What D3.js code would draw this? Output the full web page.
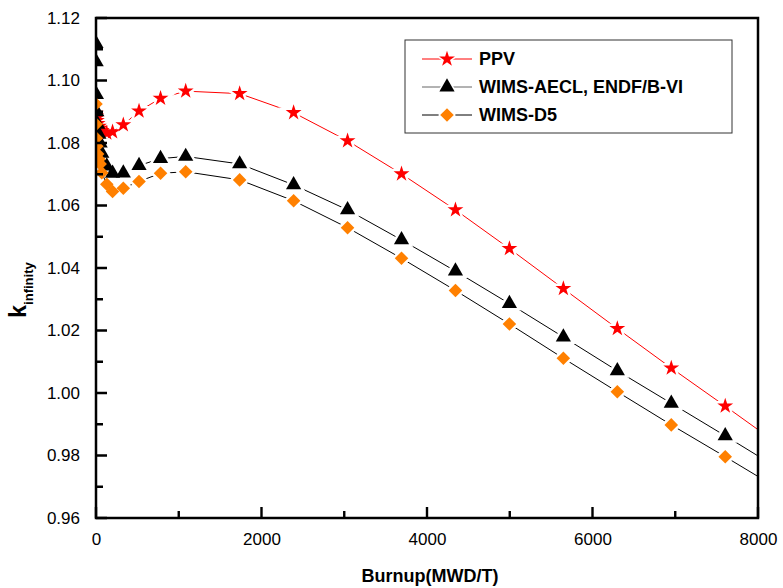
<!DOCTYPE html>
<html>
<head>
<meta charset="utf-8">
<script src="https://cdn.jsdelivr.net/npm/d3@7"></script>
<style>
  body { margin: 0; background: #fff; }
  text { font-family: "Liberation Sans", Arial, sans-serif; }
</style>
</head>
<body>
<div id="chart"></div>
<script>
// burnup steps (MWD/T), shared by all three series
const burnup = [0, 2, 5, 10, 20, 35, 50, 70, 130, 200, 330, 520, 780, 1084,
  1736, 2388, 3040, 3692, 4344, 4996, 5648, 6300, 6952, 7604, 8256];

const ppv = [1.0895, 1.0888, 1.0880, 1.0872, 1.0862, 1.0853, 1.0847, 1.0840, 1.0832, 1.0836,
  1.0858, 1.0902, 1.0943, 1.0966, 1.0958, 1.0897, 1.0807, 1.0701, 1.0586, 1.0462,
  1.0334, 1.0206, 1.0080, 0.9958, 0.9834];
const wimsAecl = [1.1118, 1.1060, 1.0955, 1.0900, 1.0860, 1.0828, 1.0800, 1.0767, 1.0726, 1.0703,
  1.0704, 1.0728, 1.0750, 1.0757, 1.0733, 1.0666, 1.0586, 1.0490, 1.0390, 1.0286,
  1.0179, 1.0071, 0.9967, 0.9863, 0.9757];
const wimsD5 = [1.0925, 1.0860, 1.0815, 1.0790, 1.0765, 1.0748, 1.0733, 1.0705, 1.0668, 1.0645,
  1.0655, 1.0677, 1.0703, 1.0708, 1.0682, 1.0615, 1.0529, 1.0431, 1.0328, 1.0221,
  1.0111, 1.0004, 0.9898, 0.9796, 0.9692];

const seriesNames = ["PPV", "WIMS-AECL, ENDF/B-VI", "WIMS-D5"];
const xTicks = [0, 2000, 4000, 6000, 8000];
const xMinorTicks = [1000, 3000, 5000, 7000];
const yTicks = [0.96, 0.98, 1.00, 1.02, 1.04, 1.06, 1.08, 1.10, 1.12];
const yMinorTicks = [0.97, 0.99, 1.01, 1.03, 1.05, 1.07, 1.09, 1.11];

const W = 783, H = 588;
const margin = { top: 18, right: 25, bottom: 70, left: 96 },
      width = W - margin.left - margin.right,
      height = H - margin.top - margin.bottom;

const svg = d3.select("#chart").append("svg")
    .attr("width", W)
    .attr("height", H);

const g = svg.append("g")
    .attr("transform", "translate(" + margin.left + "," + margin.top + ")");

const x = d3.scaleLinear().domain([0, 8000]).range([0, width]);
const y = d3.scaleLinear().domain([0.96, 1.12]).range([height, 0]);

const series = [
  { name: seriesNames[0], values: ppv, line: "#ff0000", fill: "#ff0000",
    symbol: d3.symbolStar, size: 78, rot: 0 },
  { name: seriesNames[1], values: wimsAecl, line: "#000000", fill: "#000000",
    symbol: d3.symbolTriangle, size: 100, rot: 0 },
  { name: seriesNames[2], values: wimsD5, line: "#000000", fill: "#ff8000",
    symbol: d3.symbolSquare, size: 92, rot: 45 }
];

svg.append("defs").append("clipPath")
    .attr("id", "plot-clip")
  .append("rect")
    .attr("width", width)
    .attr("height", height);

const plot = g.append("g").attr("clip-path", "url(#plot-clip)");

const line = d3.line()
    .x(d => x(d[0]))
    .y(d => y(d[1]));

series.forEach(s => {
  const pts = burnup.map((b, i) => [b, s.values[i]]);
  plot.append("path")
    .datum(pts)
    .attr("fill", "none")
    .attr("stroke", s.line)
    .attr("stroke-width", 1)
    .attr("d", line);
});

// white halo under the markers leaves the small gap in the line
series.forEach(s => {
  const pts = burnup.map((b, i) => [b, s.values[i]]);
  plot.selectAll(null)
    .data(pts.filter(d => d[0] > 300))
    .enter().append("path")
      .attr("d", d3.symbol().type(s.symbol).size(s.size))
      .attr("transform", d => "translate(" + x(d[0]) + "," + y(d[1]) + ") rotate(" + s.rot + ")")
      .attr("fill", "#fff")
      .attr("stroke", "#fff")
      .attr("stroke-width", 5);
});

series.forEach(s => {
  const pts = burnup.map((b, i) => [b, s.values[i]]);
  plot.selectAll(null)
    .data(pts)
    .enter().append("path")
      .attr("d", d3.symbol().type(s.symbol).size(s.size))
      .attr("transform", d => "translate(" + x(d[0]) + "," + y(d[1]) + ") rotate(" + s.rot + ")")
      .attr("fill", s.fill);
});

// axes: labels from d3 axes, ticks drawn inward below
const xAxis = g.append("g")
    .attr("transform", "translate(0," + height + ")")
    .call(d3.axisBottom(x).tickValues(xTicks).tickSize(0).tickPadding(15)
      .tickFormat(d3.format("d")));

const yAxis = g.append("g")
    .call(d3.axisLeft(y).tickValues(yTicks).tickSize(0).tickPadding(16)
      .tickFormat(d3.format(".2f")));

[xAxis, yAxis].forEach(a => {
  a.select(".domain").remove();
  a.selectAll(".tick line").remove();
  a.selectAll(".tick text")
    .style("font-size", "17px")
    .attr("fill", "#000");
});

// inward tick marks, drawn as one path
const tickPath = d3.path();
xTicks.forEach(v => { tickPath.moveTo(x(v), height); tickPath.lineTo(x(v), height - 11); });
xMinorTicks.forEach(v => { tickPath.moveTo(x(v), height); tickPath.lineTo(x(v), height - 7); });
yTicks.forEach(v => { tickPath.moveTo(0, y(v)); tickPath.lineTo(11, y(v)); });
yMinorTicks.forEach(v => { tickPath.moveTo(0, y(v)); tickPath.lineTo(7, y(v)); });

svg.append("path")
    .attr("transform", "translate(" + margin.left + "," + margin.top + ")")
    .attr("d", tickPath.toString())
    .attr("fill", "none")
    .attr("stroke", "#000")
    .attr("stroke-width", 2.4);

// frame
g.append("rect")
    .attr("width", width)
    .attr("height", height)
    .attr("fill", "none")
    .attr("stroke", "#000")
    .attr("stroke-width", 2.5);

// axis titles
g.append("text")
    .attr("x", width / 2 + 3)
    .attr("y", height + 64)
    .attr("text-anchor", "middle")
    .style("font-size", "18px")
    .style("font-weight", "bold")
    .text("Burnup(MWD/T)");

const yt = svg.append("text")
    .attr("transform", "translate(26,290) rotate(-90)")
    .attr("text-anchor", "middle")
    .style("font-weight", "bold");
yt.append("tspan").style("font-size", "23px").text("k");
yt.append("tspan").style("font-size", "13px").attr("dy", 7).text("infinity");

// legend
const legend = svg.append("g").attr("transform", "translate(405,40)");
legend.append("rect")
    .attr("width", 327)
    .attr("height", 93)
    .attr("fill", "#fff")
    .attr("stroke", "#333")
    .attr("stroke-width", 1);

series.forEach((s, i) => {
  const row = legend.append("g").attr("transform", "translate(0," + (19 + i * 28) + ")");
  row.append("line")
      .attr("x1", 17).attr("x2", 67)
      .attr("stroke", i === 1 ? "#666" : s.line)
      .attr("stroke-width", 1);
  row.append("path")
      .attr("d", d3.symbol().type(s.symbol).size(s.size)())
      .attr("transform", "translate(42,0) rotate(" + s.rot + ")")
      .attr("fill", s.fill)
      .attr("stroke", "#fff")
      .attr("stroke-width", 3)
      .attr("paint-order", "stroke");
  row.append("text")
      .attr("x", 74)
      .attr("dy", "0.36em")
      .style("font-size", "18px")
      .style("font-weight", "bold")
      .text(s.name);
});
</script>
</body>
</html>
